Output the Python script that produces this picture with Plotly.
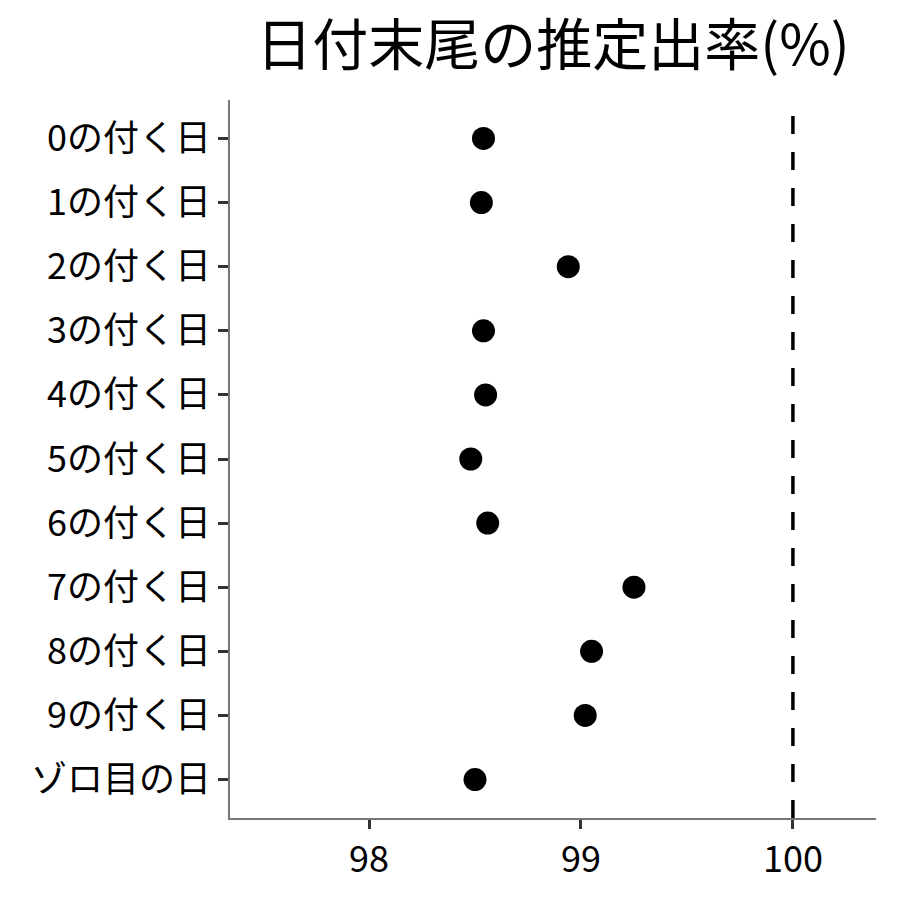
import plotly.graph_objects as go

categories = ["0の付く日", "1の付く日", "2の付く日", "3の付く日", "4の付く日",
              "5の付く日", "6の付く日", "7の付く日", "8の付く日", "9の付く日", "ゾロ目の日"]
rates = [98.54, 98.53, 98.94, 98.54, 98.55, 98.48, 98.56, 99.25, 99.05, 99.02, 98.50]
x_ticks = [98, 99, 100]
ref_line = 100
title = "日付末尾の推定出率(%)"

font_family = "Noto Sans CJK JP"

fig = go.Figure()
fig.add_trace(go.Scatter(
    x=rates, y=categories, mode="markers",
    marker=dict(color="black", size=23),
    showlegend=False,
))
fig.add_vline(x=ref_line, line=dict(color="black", width=3.5, dash="18px,18px"))

fig.update_layout(
    template="none",
    width=900, height=900,
    paper_bgcolor="white", plot_bgcolor="white",
    margin=dict(l=222, r=32, t=92, b=90, pad=0),
    title=dict(text=title, x=545 / 900, xanchor="center",
               y=1 - 37 / 900, yanchor="middle",
               font=dict(family=font_family, size=56, color="black")),
    font=dict(family=font_family, color="black"),
    xaxis=dict(range=[97.344, 100.392], tickvals=x_ticks,
               ticktext=[str(v) for v in x_ticks], automargin=False,
               showgrid=False, zeroline=False,
               showline=True, linecolor="#777777", linewidth=1.5,
               ticks="outside", ticklen=9, tickwidth=3, tickcolor="#333333",
               tickfont=dict(size=36, color="black", family=font_family)),
    yaxis=dict(categoryorder="array", categoryarray=categories, automargin=False,
               autorange=False, range=[len(categories) - 0.4, -0.6],
               showgrid=False, zeroline=False,
               showline=True, linecolor="#777777", linewidth=1.5,
               ticks="outside", ticklen=10, tickwidth=3, tickcolor="#333333",
               tickfont=dict(size=36, color="black", family=font_family)),
)

fig.write_html("out.html")
